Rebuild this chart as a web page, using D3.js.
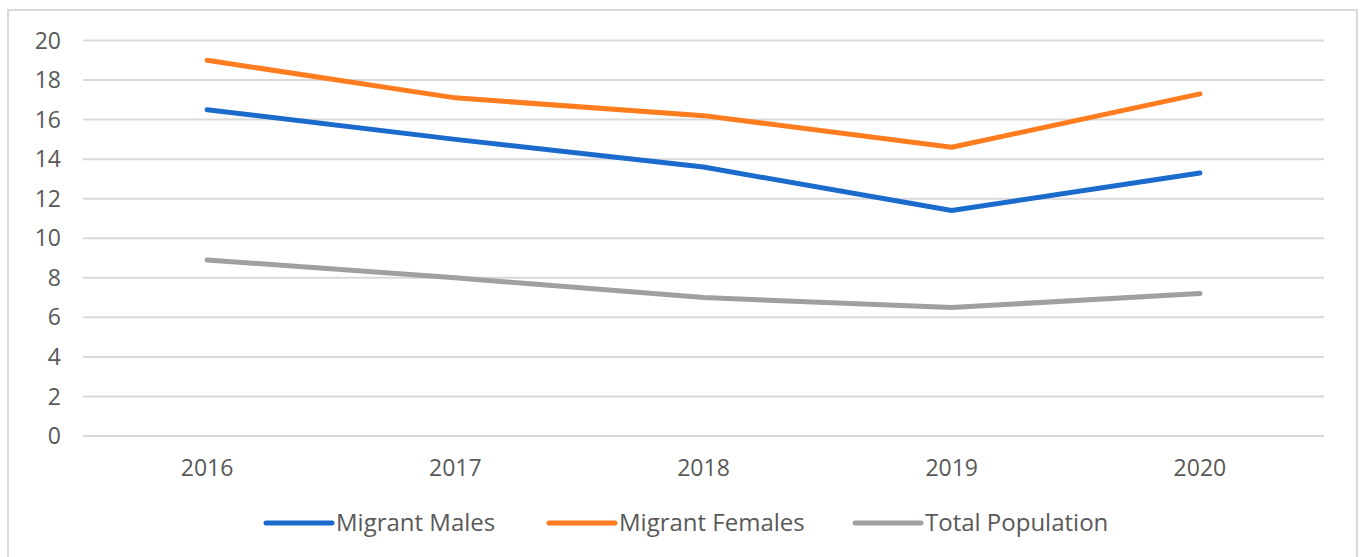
<!DOCTYPE html>
<html>
<head>
    <title>Migrant Males, Females and Total Population</title>
    <script src="https://d3js.org/d3.v7.min.js"></script>
    <style>
        body {
            margin: 0;
            background: #fff;
        }
        .tick-label {
            font-family: "Open Sans", sans-serif;
            font-size: 23px;
            fill: #595959;
        }
        .legend-text {
            font-family: "Open Sans", sans-serif;
            font-size: 24px;
            fill: #595959;
        }
    </style>
</head>
<body>
    <div id="chart"></div>

    <script>

        const years = ["2016", "2017", "2018", "2019", "2020"];
        const migrantMales = [16.5, 15.0, 13.6, 11.4, 13.3];
        const migrantFemales = [19.0, 17.1, 16.2, 14.6, 17.3];
        const totalPopulation = [8.9, 8.0, 7.0, 6.5, 7.2];
        const yTicks = [0, 2, 4, 6, 8, 10, 12, 14, 16, 18, 20];

        const series = [
            { name: "Migrant Males", values: migrantMales, color: "#1a6bcb" },
            { name: "Migrant Females", values: migrantFemales, color: "#ff7c1f" },
            { name: "Total Population", values: totalPopulation, color: "#a0a0a0" }
        ];

        const width = 1360;
        const height = 557;

        const svg = d3.select("#chart")
            .append("svg")
            .attr("width", width)
            .attr("height", height);

        // outer frame
        svg.append("rect")
            .attr("x", 8)
            .attr("y", 10)
            .attr("width", 1349)
            .attr("height", 560)
            .attr("fill", "none")
            .attr("stroke", "#d9d9d9")
            .attr("stroke-width", 2);

        const xScale = d3.scaleBand()
            .domain(years)
            .range([83, 1324]);

        const yScale = d3.scaleLinear()
            .domain([0, 20])
            .range([436, 40.5]);

        // gridlines
        svg.selectAll(".grid")
            .data(yTicks)
            .enter()
            .append("line")
            .attr("class", "grid")
            .attr("x1", xScale.range()[0])
            .attr("x2", xScale.range()[1])
            .attr("y1", d => yScale(d))
            .attr("y2", d => yScale(d))
            .style("stroke", "#d9d9d9")
            .style("stroke-width", 2);

        // y labels
        svg.selectAll(".y-label")
            .data(yTicks)
            .enter()
            .append("text")
            .attr("class", "tick-label")
            .attr("x", 61)
            .attr("y", d => yScale(d))
            .attr("dy", "0.35em")
            .attr("text-anchor", "end")
            .text(d => d);

        // x labels
        svg.selectAll(".x-label")
            .data(years)
            .enter()
            .append("text")
            .attr("class", "tick-label")
            .attr("x", d => xScale(d) + xScale.bandwidth() / 2)
            .attr("y", 468)
            .attr("dy", "0.35em")
            .attr("text-anchor", "middle")
            .text(d => d);

        const line = d3.line()
            .x((d, i) => xScale(years[i]) + xScale.bandwidth() / 2)
            .y(d => yScale(d));

        svg.selectAll(".series")
            .data(series)
            .enter()
            .append("path")
            .attr("class", "series")
            .attr("d", d => line(d.values))
            .attr("fill", "none")
            .attr("stroke", d => d.color)
            .attr("stroke-width", 5)
            .attr("stroke-linecap", "round")
            .attr("stroke-linejoin", "round");

        // legend
        const legendX = [266, 549, 855];
        const legend = svg.selectAll(".legend")
            .data(series)
            .enter()
            .append("g")
            .attr("class", "legend")
            .attr("transform", (d, i) => `translate(${legendX[i]}, 523)`);

        legend.append("line")
            .attr("x1", 0)
            .attr("x2", 66)
            .attr("y1", 0)
            .attr("y2", 0)
            .attr("stroke", d => d.color)
            .attr("stroke-width", 5)
            .attr("stroke-linecap", "round");

        legend.append("text")
            .attr("class", "legend-text")
            .attr("x", 70)
            .attr("y", 0)
            .attr("dy", "0.35em")
            .text(d => d.name);

    </script>
</body>
</html>
